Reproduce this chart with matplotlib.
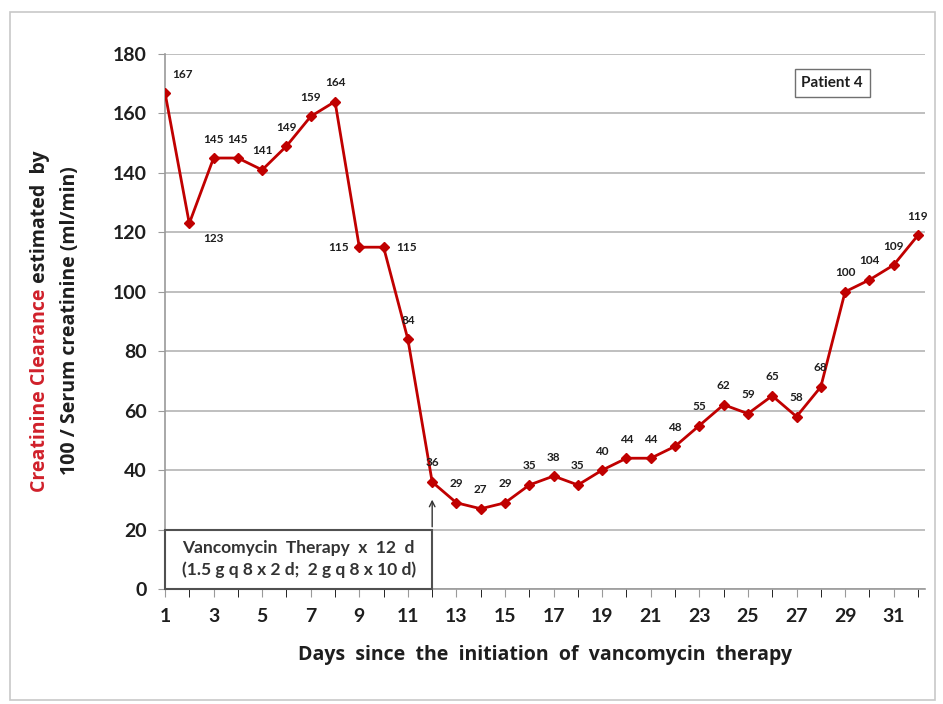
import matplotlib

matplotlib.use("Agg")

import matplotlib.pyplot as plt
from matplotlib.patches import Rectangle

plt.rcParams["font.family"] = ["Lato", "DejaVu Sans"]
plt.rcParams["font.weight"] = "bold"

days = list(range(1, 33))
clearance = [167, 123, 145, 145, 141, 149, 159, 164, 115, 115, 84, 36, 29, 27, 29, 35,
             38, 35, 40, 44, 44, 48, 55, 62, 59, 65, 58, 68, 100, 104, 109, 119]
x_ticks = list(range(1, 32, 2))
y_ticks = list(range(0, 181, 20))

therapy_days = 12
therapy_text = "Vancomycin  Therapy  x  12  d\n(1.5 g q 8 x 2 d;  2 g q 8 x 10 d)"

# label offsets in pixels (dx, dy, ha) for the points that are not labelled straight above
label_offsets = {
    1: (7, 18, "left"),
    2: (14, -15, "left"),
    9: (-10, 0, "right"),
    10: (13, 0, "left"),
}

RED = "#c00000"
GRID = "#b4b4b4"
TEXT = "#1e1e1e"
WIDE = ["Open Sans", "DejaVu Sans"]

fig = plt.figure(figsize=(9.43, 7.04), dpi=100)
fig.patches.append(Rectangle((10 / 943, 4 / 704), 925 / 943, 688 / 704, transform=fig.transFigure,
                             fill=False, edgecolor="#c8c8c8", linewidth=1.2))

ax = fig.add_axes([165 / 943, 115 / 704, 760 / 943, 535 / 704])
ax.set_xlim(1, 32.29)
ax.set_ylim(0, 180)
ax.set_yticks(y_ticks)
ax.set_xticks(x_ticks)
ax.set_xticks(days, minor=True)
ax.grid(axis="y", color=GRID, linewidth=1.2)
ax.set_axisbelow(True)
for side in ["top", "right"]:
    ax.spines[side].set_visible(False)
for side in ["left", "bottom"]:
    ax.spines[side].set_color("#9a9a9a")
    ax.spines[side].set_linewidth(1.2)
ax.tick_params(axis="both", colors="#9a9a9a", labelcolor=TEXT, labelsize=14)
ax.tick_params(axis="y", length=5, pad=8)
ax.tick_params(axis="x", which="both", length=6, pad=8)

ax.plot(days, clearance, color=RED, linewidth=2, marker="D", markersize=5.5, zorder=3)

for d, v in zip(days, clearance):
    dx, dy, ha = label_offsets.get(d, (0, 19, "center"))
    ax.annotate(str(v), (d, v), xytext=(dx, dy), textcoords="offset pixels",
                ha=ha, va="center", fontsize=8.5, color=TEXT)

ax.add_patch(Rectangle((1, 0), therapy_days - 1, 20, facecolor="white", edgecolor="#505050",
                       linewidth=1.5, zorder=4, clip_on=False))
ax.text((1 + therapy_days) / 2, 10, therapy_text, ha="center", va="center", fontsize=12.5,
        color="#333333", linespacing=1.4, zorder=5)
ax.annotate("", xy=(therapy_days, 31), xytext=(therapy_days, 20),
            arrowprops=dict(arrowstyle="->", color="#333333", lw=1), zorder=5)

ax.text(0.878, 0.946, "Patient 4", transform=ax.transAxes, ha="center", va="center", fontsize=11,
        color=TEXT, bbox=dict(boxstyle="square,pad=0.45", facecolor="white", edgecolor="#707070"))

ax.set_xlabel("Days  since  the  initiation  of  vancomycin  therapy", fontsize=14, color=TEXT,
              fontweight="bold", family=WIDE, labelpad=14)

t1 = fig.text(40 / 943, 1 - 492 / 704, "Creatinine Clearance", rotation=90, ha="center",
              va="bottom", fontsize=14, color="#d0202a", family=WIDE)
fig.add_artist(plt.Annotation(" estimated  by", xy=(0.5, 1), xycoords=t1, ha="center", va="bottom",
                              rotation=90, fontsize=14, color=TEXT, family=WIDE,
                              fontweight="bold"))
fig.text(70 / 943, 1 - 321 / 704, "100 / Serum creatinine (ml/min)", rotation=90, ha="center",
         va="center", fontsize=14, color=TEXT, family=WIDE)

fig.savefig("out.png", dpi=100)
